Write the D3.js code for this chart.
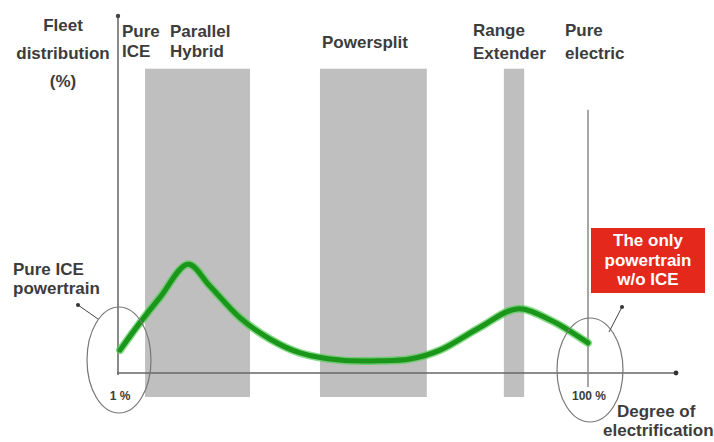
<!DOCTYPE html>
<html lang="en">
<head>
<meta charset="UTF-8">
<title>Degree of electrification</title>
<script src="https://d3js.org/d3.v7.min.js"></script>
<style>
  body { margin: 0; background: #fff; }
  text { font-family: "Liberation Sans", Arial, sans-serif; font-weight: bold; fill: #3c3c3c; }
  .lbl { font-size: 17px; }
  .small { font-size: 12px; }
  .boxtxt { font-size: 17px; fill: #fff; text-anchor: middle; }
</style>
</head>
<body>
<div id="chart"></div>
<script>
// degree of electrification (%) vs fleet distribution (%)
const curveX = [1, 5.2, 9.5, 15.4, 20.0, 26.4, 32.7, 39.1, 47.5, 56.0, 62.3, 68.7, 77.2, 85.0, 92.0, 100];
const curveY = [6.4, 14.0, 21.2, 30.4, 24.3, 15.4, 9.5, 5.6, 3.6, 3.4, 3.9, 6.4, 12.8, 17.9, 14.8, 8.4];

const bandNames = ["Parallel Hybrid", "Powersplit", "Range Extender"];
const bandStart = [6.3, 43.3, 82.2];
const bandEnd = [28.5, 65.9, 86.5];

const W = 714, H = 442;
const svg = d3.select("#chart").append("svg").attr("width", W).attr("height", H);

const x = d3.scaleLinear().domain([1, 100]).range([120, 588]);
const y = d3.scaleLinear().domain([0, 100]).range([373, 15]);

// gray technology bands
svg.selectAll(".band")
  .data(bandNames)
  .enter().append("rect")
  .attr("class", "band")
  .attr("x", (d, i) => x(bandStart[i]))
  .attr("width", (d, i) => x(bandEnd[i]) - x(bandStart[i]))
  .attr("y", y(85))
  .attr("height", y(-6.7) - y(85))
  .attr("fill", "#bfbfbf");

// axes with dot arrow ends
svg.append("line").attr("x1", x(1) - 2).attr("x2", x(1) - 2)
  .attr("y1", y(0) + 2).attr("y2", 16)
  .attr("stroke", "#8a8a8a").attr("stroke-width", 2);
svg.append("circle").attr("cx", x(1) - 2).attr("cy", 16).attr("r", 2.2).attr("fill", "#444");

svg.append("line").attr("x1", x(1) - 3).attr("x2", 676)
  .attr("y1", y(0)).attr("y2", y(0))
  .attr("stroke", "#666").attr("stroke-width", 1.6);
svg.append("circle").attr("cx", 676).attr("cy", y(0)).attr("r", 2.4).attr("fill", "#333");

// pure electric line
svg.append("line").attr("x1", x(100)).attr("x2", x(100))
  .attr("y1", y(73.5)).attr("y2", y(-3.9))
  .attr("stroke", "#8a8a8a").attr("stroke-width", 1.5);

// distribution curve
const pts = curveX.map((v, i) => [x(v), y(curveY[i])]);
const line = d3.line().curve(d3.curveCatmullRom.alpha(0.5));
svg.append("path").attr("d", line(pts)).attr("fill", "none")
  .attr("stroke", "#55cc55").attr("stroke-width", 8).attr("stroke-linecap", "round").attr("opacity", 0.7);
svg.append("path").attr("d", line(pts)).attr("fill", "none")
  .attr("stroke", "#1a961a").attr("stroke-width", 5).attr("stroke-linecap", "round");

// ellipses
svg.append("ellipse").attr("cx", x(1) - 1).attr("cy", 360).attr("rx", 32).attr("ry", 53)
  .attr("fill", "none").attr("stroke", "#777").attr("stroke-width", 1.2);
svg.append("ellipse").attr("cx", x(100) + 2).attr("cy", 370).attr("rx", 33).attr("ry", 52)
  .attr("fill", "none").attr("stroke", "#777").attr("stroke-width", 1.2);

// pointer lines
svg.append("line").attr("x1", 78).attr("y1", 305).attr("x2", 98).attr("y2", 319)
  .attr("stroke", "#444").attr("stroke-width", 1);
svg.append("circle").attr("cx", 78).attr("cy", 305).attr("r", 2).attr("fill", "#333");
svg.append("line").attr("x1", 622).attr("y1", 307).attr("x2", 609).attr("y2", 332)
  .attr("stroke", "#444").attr("stroke-width", 1);
svg.append("circle").attr("cx", 622).attr("cy", 307).attr("r", 2).attr("fill", "#333");

// red box
svg.append("rect").attr("x", 591).attr("y", 228).attr("width", 114).attr("height", 65).attr("fill", "#e5281c");
["The only", "powertrain", "w/o ICE"].forEach((t, i) => {
  svg.append("text").attr("class", "boxtxt").attr("x", 648).attr("y", 246 + i * 19.5).text(t);
});

// labels
function label(lines, x0, y0, dy, anchor, cls) {
  const t = svg.append("text").attr("class", cls || "lbl").attr("text-anchor", anchor || "start");
  lines.forEach((s, i) => t.append("tspan").attr("x", x0).attr("y", y0 + i * dy).text(s));
}
label(["Fleet", "distribution", "(%)"], 63, 31, 28, "middle");
label(["Pure", "ICE"], 122, 37, 20);
label(["Parallel", "Hybrid"], 170, 37, 20);
label(["Powersplit"], 322, 48, 0);
label(["Range", "Extender"], 473, 36, 23);
label(["Pure", "electric"], 565, 36, 23);
label(["Pure ICE", "powertrain"], 13, 275, 19);
label(["Degree of"], 617, 417, 0);
label(["electrification"], 603, 436, 0);
label(["1 %"], 120, 400, 0, "middle", "small");
label(["100 %"], 589, 400, 0, "middle", "small");
</script>
</body>
</html>
